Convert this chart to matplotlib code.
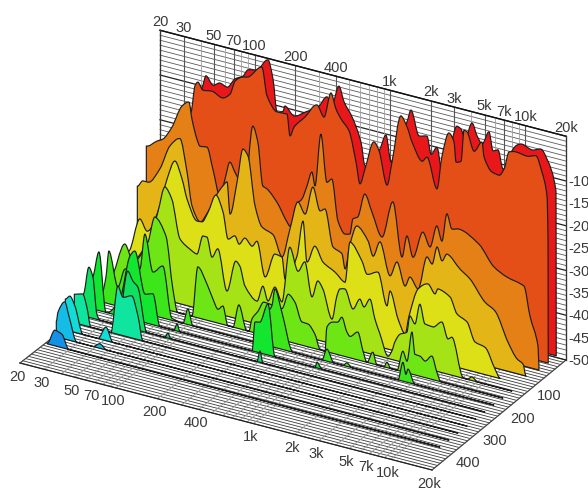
import numpy as np
import matplotlib
matplotlib.use("Agg")
import matplotlib.pyplot as plt
from matplotlib.patches import PathPatch
from matplotlib.path import Path
from matplotlib.transforms import Affine2D

plt.rcParams['font.family'] = ['Liberation Sans', 'DejaVu Sans']

# ---- data: log10(Hz) and dB per time slice ----
times = [0, 31.5, 63, 94.5, 126, 157.5, 189, 220.5, 252, 283.5, 315, 346.5, 378, 409.5]
colors = ['#e8181a', '#e34f16', '#e48015', '#e3b516', '#dde016', '#a5e316', '#6ee616',
          '#3de61a', '#12e62e', '#10e060', '#10e5a0', '#12dcd6', '#14bce6', '#1490e6']

f0 = [1.314,1.529,1.588,1.610,1.662,1.713,1.765,1.824,1.883,1.920,1.987,2.068,2.105,2.135,2.179,2.194,2.260,2.342,2.445,2.504,2.541,2.593,2.630,2.689,2.755,2.785,2.837,2.896,2.940,2.977,3.029,3.095,3.125,3.184,3.243,3.273,3.317,3.354,3.391,3.465,3.494,3.524,3.576,3.613,3.650,3.701,3.731,3.768,3.805,3.856,3.908,3.945,4.019,4.086,4.130,4.196,4.197,4.198]
l0 = [-37.9,-16.1,-10.2,-8.0,-9.7,-8.8,-9.3,-7.0,-5.9,-4.2,-3.7,-0.8,-4.8,-11.9,-11.4,-10.1,-11.8,-10.3,-8.1,-5.6,-6.9,-2.5,-5.7,-8.6,-13.7,-18.8,-18,-14.1,-10.7,-16.4,-10.8,-6.5,-3.6,-8.9,-8.5,-12.3,-10.4,-15.6,-13.5,-4.5,-4.9,-6.9,-2.9,-5.5,-7,-3.9,-7.9,-7.4,-11.4,-7.6,-5.2,-4.7,-5.4,-4.7,-6.6,-13.2,-28.4,-50]

f1 = [1.307,1.447,1.566,1.595,1.617,1.654,1.721,1.795,1.854,1.891,1.942,1.987,2.090,2.127,2.201,2.275,2.297,2.327,2.408,2.497,2.548,2.600,2.637,2.674,2.733,2.785,2.814,2.851,2.918,2.955,3.014,3.051,3.117,3.162,3.199,3.273,3.310,3.383,3.420,3.472,3.509,3.524,3.561,3.583,3.605,3.657,3.716,3.731,3.790,3.842,3.879,3.916,3.967,4.049,4.115,4.159,4.196,4.204,4.205]
l1 = [-25.2,-19.6,-14.9,-8.8,-7.8,-9.3,-9,-9.9,-8.6,-5.4,-4.1,-3.7,-0.7,-6.8,-9.8,-9.7,-14.4,-12.2,-9.3,-5.9,-8.2,-2.4,-5.7,-7.6,-9.8,-16.4,-21,-17.4,-10.8,-12.5,-19.7,-14.2,-3.4,-5.5,-8.6,-12.3,-11.1,-17.6,-10,-4.4,-6.1,-10.5,-10,-2.9,-3.1,-7,-4.5,-7.7,-10.6,-10.9,-9.2,-5.1,-4.7,-5,-4.4,-7.7,-12.7,-23.4,-46]

f2 = [1.302,1.380,1.424,1.491,1.565,1.617,1.639,1.676,1.698,1.750,1.794,1.846,1.883,1.920,1.956,2.030,2.089,2.126,2.163,2.193,2.267,2.341,2.363,2.415,2.452,2.489,2.526,2.548,2.592,2.636,2.673,2.718,2.769,2.806,2.828,2.865,2.917,2.969,3.043,3.124,3.191,3.228,3.272,3.346,3.398,3.449,3.486,3.523,3.560,3.612,3.760,3.871,3.967,4.092,4.137,4.196,4.203]
l2 = [-23,-21.3,-20.5,-17.3,-12,-10.7,-14.3,-18.5,-19.9,-19.7,-24.3,-29.9,-25.8,-21.7,-23.6,-26.8,-12.3,-15.6,-25.1,-25.5,-27.9,-31.7,-32.5,-27.1,-25.7,-22.5,-19.1,-22,-10.1,-20.5,-19.5,-28.5,-31,-30.7,-27.2,-26.4,-20.9,-24.5,-29.5,-21,-32.8,-27.8,-32.2,-26,-28.9,-23.8,-26.9,-20.5,-23.6,-23.2,-25.4,-29.6,-31.1,-32.1,-38.5,-44.7,-48.7]

f3 = [1.302,1.344,1.381,1.469,1.543,1.617,1.669,1.706,1.765,1.824,1.891,1.935,1.965,1.987,2.039,2.083,2.120,2.172,2.223,2.305,2.371,2.430,2.489,2.541,2.600,2.652,2.689,2.748,2.814,2.837,2.874,2.925,3.007,3.044,3.095,3.169,3.221,3.280,3.317,3.376,3.443,3.480,3.517,3.553,3.590,3.687,3.760,3.871,3.945,4.041,4.108,4.152,4.174]
l3 = [-30.4,-28.9,-28.9,-25.2,-19.5,-17.3,-24.3,-31.6,-34.7,-32,-27.5,-25.3,-24.2,-31.2,-23.6,-15.9,-17.2,-27.9,-32.2,-33.3,-37.7,-31,-24.5,-26.8,-20.3,-25.2,-24.5,-32.5,-33.5,-36.7,-30.8,-26.4,-29.1,-32.2,-28.6,-35.6,-32.1,-37,-34.7,-36.9,-29.2,-30.5,-26.4,-29.2,-27.4,-30,-31.6,-35.9,-37.3,-43.5,-46.7,-47.5,-50]

f4 = [1.302,1.388,1.440,1.536,1.588,1.647,1.699,1.736,1.809,1.846,1.891,1.950,2.002,2.039,2.090,2.120,2.164,2.216,2.253,2.312,2.386,2.438,2.460,2.548,2.593,2.622,2.681,2.741,2.829,2.903,2.940,3.029,3.066,3.147,3.213,3.236,3.295,3.347,3.376,3.443,3.517,3.568,3.590,3.679,3.731,3.805,3.864,3.938,4.012,4.049]
l4 = [-43.4,-35.5,-37.8,-31.4,-25,-20.5,-24.1,-28.3,-32.6,-32.5,-30,-25.7,-29.1,-34.8,-33.7,-35.3,-33.6,-35,-33.6,-41.1,-35.4,-35.7,-40.4,-34.6,-26.4,-35.3,-31.3,-34.4,-35.9,-37.6,-28.3,-31.9,-34.5,-33.4,-40.4,-36.9,-42.7,-45.6,-41.4,-34.8,-33.1,-34.9,-33.6,-34.7,-38.1,-39.3,-43.3,-43.9,-48.2,-49.9]

f5 = [1.306,1.528,1.587,1.639,1.690,1.750,1.823,1.875,1.920,1.949,1.986,2.030,2.097,2.163,2.193,2.230,2.319,2.363,2.400,2.452,2.503,2.562,2.622,2.673,2.725,2.769,2.806,2.873,2.910,2.932,2.969,3.028,3.080,3.109,3.154,3.191,3.228,3.287,3.316,3.338,3.375,3.427,3.449,3.486,3.523,3.560,3.619,3.686,3.730,3.760,3.841,3.871,3.908,3.952,4.203]
l5 = [-45.8,-37.3,-30.8,-24.8,-27.1,-35.5,-37.2,-37.9,-33.5,-33.5,-37.7,-35.5,-44.4,-37.2,-38.1,-42.2,-44.9,-41.2,-44.2,-40.7,-43.6,-30.9,-35.8,-33.3,-40.7,-36.8,-38.3,-44.5,-39,-37.3,-37,-41,-38.4,-39.9,-37.8,-42,-45,-49.5,-48.1,-45.9,-43.9,-43,-39.2,-40.7,-36,-40.1,-40.3,-38.7,-42.1,-41.5,-49.8,-50,-49.2,-50,-50]

f6 = [1.302,1.410,1.469,1.580,1.631,1.713,1.764,1.801,1.905,1.949,2.016,2.060,2.097,2.134,2.171,2.208,2.252,2.311,2.326,2.348,2.393,2.437,2.570,2.618,2.666,2.718,2.762,2.814,2.851,2.888,2.902,2.939,2.984,3.013,3.050,3.072,3.131,3.169,3.198,3.242,3.272,3.324,3.346,3.375,3.420,3.464,3.494,3.531,3.553,3.590,3.627,3.678,3.715,3.745,4.203]
l6 = [-46,-37.8,-41.1,-36,-30,-33.6,-45,-50,-50,-38.6,-41.9,-44.9,-46.9,-45.9,-50,-50,-44.7,-50,-50,-47.1,-45,-42.6,-43,-39.4,-40.8,-44.8,-44.9,-46.8,-49.8,-50,-44.5,-43.1,-42.7,-41.4,-44.4,-45.2,-43.8,-47.7,-50,-47.4,-50,-50,-48.8,-50,-50,-45.4,-47.4,-40.6,-45.4,-45.5,-46.3,-44.8,-48.1,-50,-50]

f7 = [1.302,1.336,1.358,1.424,1.476,1.587,1.624,1.683,1.757,1.823,1.905,1.942,1.979,2.459,2.533,2.562,2.585,2.636,2.718,2.932,2.969,3.021,3.087,3.117,3.154,3.494,3.531,3.553,3.568,3.619,4.203]
l7 = [-48.5,-44.2,-38.2,-45.7,-41.3,-40.4,-32.3,-40.3,-38.4,-49.5,-50,-46.5,-50,-50,-42.5,-40.9,-36.9,-41.7,-50,-50,-47.3,-50,-50,-49.2,-50,-50,-45.8,-48.3,-47,-50,-50]

f8 = [1.302,1.351,1.403,1.506,1.580,1.617,1.691,1.750,1.802,1.905,1.928,1.950,2.482,2.504,2.541,2.600,2.652,2.948,2.962,2.999,4.203]
l8 = [-42.9,-36.9,-50,-46.2,-36,-34.6,-43.6,-43.1,-50,-50,-48.4,-50,-50,-43.4,-43.1,-38.6,-50,-50,-48.7,-50,-50]

f9 = [1.302,1.343,1.373,1.402,1.424,1.557,1.631,1.668,1.705,1.772,1.905,1.927,1.949,2.585,2.607,2.629,4.203]
l9 = [-45.1,-38.8,-40.8,-48.8,-50,-50,-37.4,-39.3,-40.4,-50,-50,-48.9,-50,-50,-47.5,-50,-50]

f10 = [1.302,1.314,1.365,1.395,1.424,1.572,1.624,1.661,1.727,1.772,1.809,4.203]
l10 = [-43.6,-43.5,-43.1,-45.8,-50,-50,-39.2,-41.4,-40.6,-44.7,-50,-50]

f11 = [1.302,1.336,1.373,1.433,1.543,1.603,1.654,4.203]
l11 = [-43.1,-42.2,-44.1,-50,-50,-47,-50,-50]

f12 = [1.302,1.314,1.365,1.395,1.454,1.572,1.624,1.676,4.203]
l12 = [-46.5,-44.4,-41.7,-44.6,-50,-50,-49,-50,-50]

f13 = [1.302,1.358,1.410,1.461,4.203]
l13 = [-49.8,-46.5,-47,-50,-50]

slice_freqs = [f0, f1, f2, f3, f4, f5, f6, f7, f8, f9, f10, f11, f12, f13]
slice_levels = [l0, l1, l2, l3, l4, l5, l6, l7, l8, l9, l10, l11, l12, l13]

freq_ticks = [20, 30, 50, 70, 100, 200, 400, 1000, 2000, 3000, 5000, 7000, 10000, 20000]
freq_labels = ['20', '30', '50', '70', '100', '200', '400', '1k', '2k', '3k', '5k', '7k', '10k', '20k']
freq_grid = [20, 30, 40, 50, 60, 70, 80, 90, 100, 200, 300, 400, 500, 600, 700, 800, 900,
             1000, 2000, 3000, 4000, 5000, 6000, 7000, 8000, 9000, 10000, 20000]
db_ticks = [-10, -15, -20, -25, -30, -35, -40, -45, -50]
time_ticks = [100, 200, 300, 400]

# ---- oblique projection ----
L0, L1 = np.log10(20), np.log10(20000)
T0, T1 = 14.7, 504.7
K = 4.475


def depth(t):
    return (t - T0) / (T1 - T0)


def floor_tf(t):
    d = depth(t)
    fx, fy = 406 + 6 * d, 106 + d
    ox, oy = 160 - 140 * d, 255 + 109 * d
    a, b = fx / (L1 - L0), fy / (L1 - L0)
    return Affine2D.from_values(a, b, 0, -K, ox - a * L0, oy - b * L0 - K * 50)


def slice_tf(t):
    d = depth(t)
    fx, fy = 406, 106.8
    ox, oy = 160 - 140 * d, 257 + 109 * d
    a, b = fx / (L1 - L0), fy / (L1 - L0)
    return Affine2D.from_values(a, b, 0, -K, ox - a * L0, oy - b * L0 - K * 50)


def slice_path(fs, ls):
    """Closed outline through the read points with rounded, non-overshooting joins."""
    x = np.asarray(fs, float)
    y = np.asarray(ls, float)
    dx = np.diff(x)
    sec = np.diff(y) / dx
    m = np.zeros_like(y)
    for k in range(1, len(x) - 1):
        if sec[k - 1] * sec[k] > 0:
            m[k] = 2 * sec[k - 1] * sec[k] / (sec[k - 1] + sec[k])
    verts = [(x[0], -50), (x[0], y[0])]
    codes = [Path.MOVETO, Path.LINETO]
    for k in range(len(x) - 1):
        h = dx[k] / 3
        verts += [(x[k] + h, y[k] + m[k] * h), (x[k + 1] - h, y[k + 1] - m[k + 1] * h), (x[k + 1], y[k + 1])]
        codes += [Path.CURVE4] * 3
    verts += [(x[-1], -50), (x[0], -50)]
    codes += [Path.LINETO, Path.CLOSEPOLY]
    return Path(verts, codes)


fig = plt.figure(figsize=(5.88, 4.89), dpi=100)
ax = fig.add_axes([0, 0, 1, 1])
ax.set_xlim(0, 588)
ax.set_ylim(489, 0)
ax.axis('off')

wall = floor_tf(T0) + ax.transData
front = floor_tf(T1) + ax.transData

# floor grid
for t in np.arange(T0, T1 + 0.1, 10):
    ax.plot([L0, L1], [-50, -50], transform=floor_tf(t) + ax.transData, color='#3a3a3a', lw=0.6, zorder=1)
for f in freq_grid:
    lf = np.log10(f)
    p0 = wall.transform((lf, -50))
    p1 = front.transform((lf, -50))
    ax.plot([p0[0], p1[0]], [p0[1], p1[1]], transform=None, color='#999999', lw=0.7, zorder=1.1)
ax.plot([L0, L1], [-50, -50], transform=front, color='#222222', lw=0.9, zorder=1.2)
for lf in (L0, L1):
    p0 = wall.transform((lf, -50))
    p1 = front.transform((lf, -50))
    ax.plot([p0[0], p1[0]], [p0[1], p1[1]], transform=None, color='#444444', lw=0.8, zorder=1.2)

# back wall grid
for n, db in enumerate(np.linspace(-50, 0, 46)):
    dark = n % 9 == 0
    ax.plot([L0, L1], [db, db], transform=wall, color='#222222' if dark else '#5a5a5a',
            lw=0.9 if dark else 0.6, zorder=1.5)
for f in freq_grid:
    lf = np.log10(f)
    dark = f in freq_ticks
    ax.plot([lf, lf], [-50, 0], transform=wall, color='#555555' if dark else '#a0a0a0',
            lw=0.8 if dark else 0.6, zorder=1.6)
ax.plot([L0, L1], [0, 0], transform=wall, color='#111111', lw=1.0, zorder=1.7)
ax.plot([L0, L0], [-50, 0], transform=wall, color='#333333', lw=0.9, zorder=1.7)
ax.plot([L1, L1], [-50, 0], transform=wall, color='#333333', lw=0.9, zorder=1.7)

# slices, back to front
for i, (t, col, fs, ls) in enumerate(zip(times, colors, slice_freqs, slice_levels)):
    ax.add_patch(PathPatch(slice_path(fs, ls), facecolor=col, edgecolor='#1c1c1c', lw=0.85,
                           joinstyle='round', transform=slice_tf(t) + ax.transData, zorder=3 + i))

# labels
txt = dict(fontsize=10.5, color='#3a3a3a', zorder=30)
to_data = ax.transData.inverted()
for f, s in zip(freq_ticks, freq_labels):
    lf = np.log10(f)
    q = to_data.transform(wall.transform((lf, 0)))
    ax.text(q[0], q[1] - 9.5, s, ha='center', va='center', **txt)
    q = to_data.transform(front.transform((lf, -50)))
    ax.text(q[0] - 3, q[1] + 12.5, s, ha='center', va='center', **txt)
for db in db_ticks:
    q = to_data.transform(wall.transform((L1, db)))
    ax.text(q[0] + 2, q[1], str(db), ha='left', va='center', clip_on=False, **txt)
for t in time_ticks:
    q = to_data.transform((floor_tf(t) + ax.transData).transform((L1, -50)))
    ax.text(q[0] + 7, q[1] + 16, str(t), ha='center', va='center', **txt)

fig.savefig('out.png', dpi=100)
